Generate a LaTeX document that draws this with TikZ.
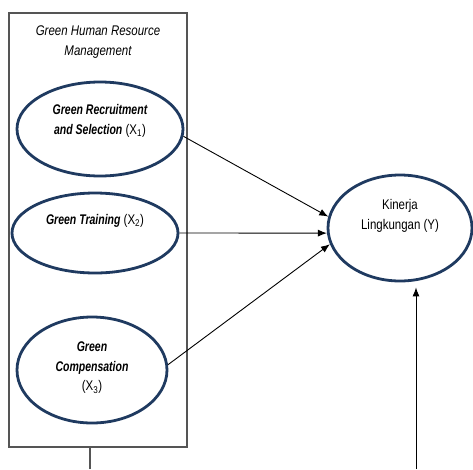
\documentclass[tikz,border=0pt]{standalone}
\usepackage{fontspec}
\setmainfont{Liberation Sans}[FakeStretch=0.82,BoldItalicFeatures={FakeStretch=0.75}]
\usepackage{tikz}
\usetikzlibrary{arrows.meta,shapes.geometric}
\definecolor{navy}{HTML}{1F3A60}
\definecolor{boxgray}{HTML}{555555}

\begin{document}
\begin{tikzpicture}[x=1pt,y=-1pt]
\tikzset{latent/.style = {shape=ellipse,draw=navy,line width=2.8pt}}
\tikzset{label/.style = {align=center,font=\fontsize{14}{19.5}\selectfont}}
\tikzset{edge/.style = {->,line width=0.9pt,> = {Latex[length=9pt,width=7pt]}}}
\useasboundingbox (0,0) rectangle (473,469);
% block
\node[draw=boxgray,line width=1.3pt,minimum width=178,minimum height=434] (hrm) at (98,230) {};
\node[label] (title) at (98,42) {\itshape Green Human Resource\\\itshape Management};
% vertices
\node[latent,minimum width=166,minimum height=94] (rs) at (100,129) {};
\node[latent,minimum width=166,minimum height=80] (tr) at (95,233) {};
\node[latent,minimum width=150,minimum height=106] (cp) at (92,370) {};
\node[latent,minimum width=144,minimum height=106] (kl) at (400,228) {};
% texts
\node[label] (rstext) at (100,121) {\bfseries\itshape Green Recruitment\\\textbf{\textit{and Selection}} (X\textsubscript{1})};
\node[label] (trtext) at (95,221) {\textbf{\textit{Green Training}} (X\textsubscript{2})};
\node[label] (cptext) at (92,368) {\bfseries\itshape Green\\\textbf{\textit{Compensation}}\\(X\textsubscript{3})};
\node[label] (kltext) at (400,216) {Kinerja\\Lingkungan (Y)};
% free ends
\coordinate (lk) at (90,469);
\coordinate (bt) at (416,469);
%edges
\draw[edge] (rs.-5) to (kl.171);
\draw[edge] (tr.east) to (kl.184);
\draw[edge] (cp.4) to (kl.193);
\draw[edge,shorten >=5pt] (bt) to (bt |- kl.south);
\draw[boxgray,line width=1.3pt] (lk) to (lk |- hrm.south);
\end{tikzpicture}
\end{document}
